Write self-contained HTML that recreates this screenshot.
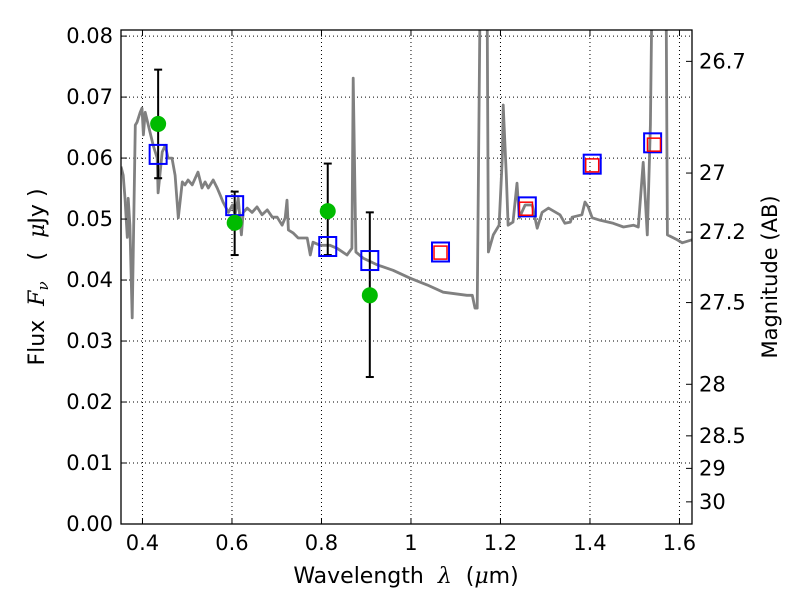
<!DOCTYPE html>
<html><head><meta charset="utf-8"><style>
html,body{margin:0;padding:0;background:#fff;}
svg{display:block;font-family:"DejaVu Sans","Liberation Sans",sans-serif;}
</style></head><body>
<svg id="chart" width="800" height="600" xmlns="http://www.w3.org/2000/svg">
<defs><clipPath id="clip"><rect x="121" y="30" width="571" height="494"/></clipPath></defs>
<rect width="800" height="600" fill="#fff"/>
<g id="grid"></g>
<g id="spec" clip-path="url(#clip)"></g>
<g id="marks"></g>
<g id="axes"></g>
<text x="406" y="583" font-size="22" text-anchor="middle" xml:space="preserve">Wavelength  <tspan font-style="italic" font-family="DejaVu Serif, serif">λ</tspan>  (<tspan font-style="italic" font-family="DejaVu Serif, serif">μ</tspan>m)</text>
<text transform="translate(44,277) rotate(-90)" font-size="22" text-anchor="middle" xml:space="preserve">Flux  <tspan font-style="italic" font-family="DejaVu Serif, serif">F</tspan><tspan font-style="italic" font-size="15" dy="4" font-family="DejaVu Serif, serif">ν</tspan><tspan dy="-4">   (  </tspan><tspan font-style="italic" font-family="DejaVu Serif, serif">μ</tspan>Jy )</text>
<text transform="translate(777,277) rotate(-90)" font-size="21" text-anchor="middle">Magnitude (AB)</text>
</svg>
<script>
const xTicks=[0.4,0.6,0.8,1.0,1.2,1.4,1.6];
const xTickLabels=["0.4","0.6","0.8","1","1.2","1.4","1.6"];
const yTicks=[0,0.01,0.02,0.03,0.04,0.05,0.06,0.07,0.08];
const yTickLabels=["0.00","0.01","0.02","0.03","0.04","0.05","0.06","0.07","0.08"];
const magTicks=[26.7,27,27.2,27.5,28,28.5,29,30];
const magTickLabels=["26.7","27","27.2","27.5","28","28.5","29","30"];
const specWave=[0.352,0.357,0.361,0.366,0.368,0.372,0.377,0.384,0.388,0.395,0.399,0.402,0.406,0.413,0.424,0.433,0.435,0.444,0.451,0.457,0.466,0.473,0.480,0.489,0.495,0.502,0.511,0.524,0.533,0.540,0.547,0.558,0.567,0.574,0.580,0.592,0.601,0.607,0.614,0.621,0.625,0.634,0.645,0.656,0.667,0.679,0.690,0.701,0.712,0.719,0.723,0.726,0.737,0.748,0.768,0.775,0.781,0.797,0.819,0.835,0.857,0.868,0.871,0.877,0.893,0.924,0.960,0.998,1.036,1.072,1.125,1.137,1.143,1.148,1.155,1.170,1.173,1.184,1.197,1.204,1.206,1.213,1.217,1.228,1.237,1.242,1.255,1.271,1.282,1.293,1.307,1.333,1.344,1.356,1.360,1.382,1.389,1.396,1.405,1.423,1.452,1.475,1.497,1.508,1.519,1.528,1.535,1.539,1.570,1.573,1.595,1.606,1.628];
const specFlux=[0.0586,0.0572,0.0534,0.0470,0.0534,0.0490,0.0338,0.0654,0.0659,0.0675,0.0682,0.0638,0.0675,0.0654,0.0621,0.0600,0.0543,0.0610,0.0621,0.0600,0.0600,0.0572,0.0502,0.0561,0.0556,0.0564,0.0556,0.0577,0.0551,0.0561,0.0551,0.0564,0.0551,0.0539,0.0528,0.0511,0.0523,0.0507,0.0534,0.0474,0.0511,0.0518,0.0511,0.0520,0.0507,0.0515,0.0503,0.0503,0.0490,0.0502,0.0531,0.0482,0.0477,0.0469,0.0469,0.0441,0.0462,0.0457,0.0457,0.0452,0.0441,0.0452,0.0731,0.0446,0.0436,0.0425,0.0416,0.0403,0.0392,0.0380,0.0375,0.0375,0.0354,0.0354,0.0900,0.0900,0.0446,0.0474,0.0490,0.0600,0.0687,0.0572,0.0490,0.0495,0.0559,0.0502,0.0523,0.0523,0.0485,0.0511,0.0518,0.0507,0.0493,0.0495,0.0503,0.0507,0.0528,0.0520,0.0502,0.0498,0.0493,0.0487,0.0490,0.0487,0.0593,0.0474,0.0654,0.0900,0.0900,0.0474,0.0466,0.0461,0.0466];
const obsWave=[0.435,0.606,0.814,0.908];
const obsFlux=[0.0656,0.0494,0.0513,0.0375];
const obsLo=[0.0567,0.0441,0.0441,0.0241];
const obsHi=[0.0745,0.0545,0.0591,0.0511];
const modelWave=[0.435,0.606,0.814,0.908,1.066,1.26,1.405,1.54];
const modelFlux=[0.0606,0.0522,0.0455,0.0432,0.0446,0.0520,0.0590,0.0625];
const nirWave=[1.066,1.257,1.405,1.543];
const nirFlux=[0.0445,0.0517,0.0588,0.0622];

const X0=121,X1=692,Y0=524,Y1=30,xmin=0.352,xmax=1.628,ymin=0,ymax=0.081;
const sx=v=>X0+(v-xmin)/(xmax-xmin)*(X1-X0);
const sy=v=>Y0-(v-ymin)/(ymax-ymin)*(Y0-Y1);
const magToFlux=m=>Math.pow(10,(23.9-m)/2.5);
const NS="http://www.w3.org/2000/svg";
function mk(tag,attrs,parent){const e=document.createElementNS(NS,tag);for(const k in attrs)e.setAttribute(k,attrs[k]);parent.appendChild(e);return e;}
const grid=document.getElementById('grid'),axes=document.getElementById('axes'),spec=document.getElementById('spec'),marks=document.getElementById('marks');

xTicks.forEach((t,i)=>{
  const x=sx(t);
  const g=mk('line',{x1:x,x2:x,y1:Y1,y2:Y0,stroke:'#000','stroke-width':1,'stroke-dasharray':'1,3'},grid);
  
  
  mk('line',{x1:x,x2:x,y1:Y0,y2:Y0-6,stroke:'#000'},axes);
  mk('line',{x1:x,x2:x,y1:Y1,y2:Y1+6,stroke:'#000'},axes);
  const tx=mk('text',{x:x,y:Y0+26,'font-size':21,'text-anchor':'middle'},axes);
  tx.textContent=xTickLabels[i];
  
  
});
yTicks.forEach((t,i)=>{
  const y=sy(t);
  const g=mk('line',{x1:X0,x2:X1,y1:y,y2:y,stroke:'#000','stroke-width':1,'stroke-dasharray':'1,3'},grid);
  
  
  mk('line',{x1:X0,x2:X0+6,y1:y,y2:y,stroke:'#000'},axes);
  const tx=mk('text',{x:X0-8,y:y+7,'font-size':21,'text-anchor':'end'},axes);
  tx.textContent=yTickLabels[i];
  
  
});
magTicks.forEach((m,i)=>{
  const y=sy(magToFlux(m));
  mk('line',{x1:X1,x2:X1-6,y1:y,y2:y,stroke:'#000'},axes);
  const tx=mk('text',{x:X1+7,y:y+7,'font-size':21},axes);
  tx.textContent=magTickLabels[i];
  
  
});
const frame=mk('rect',{x:X0,y:Y1,width:X1-X0,height:Y0-Y1,fill:'none',stroke:'#000','stroke-width':1.3},axes);



const pts=specWave.map((w,i)=>sx(w).toFixed(1)+','+sy(specFlux[i]).toFixed(1)).join(' ');
const pl=mk('polyline',{points:pts,fill:'none',stroke:'#808080','stroke-width':2.8,'stroke-linejoin':'round'},spec);



obsWave.forEach((w,i)=>{
  const x=sx(w);
  const eb=mk('g',{},marks);
  
  
  mk('line',{x1:x,x2:x,y1:sy(obsLo[i]),y2:sy(obsHi[i]),stroke:'#000','stroke-width':2},eb);
  mk('line',{x1:x-4,x2:x+4,y1:sy(obsLo[i]),y2:sy(obsLo[i]),stroke:'#000','stroke-width':2},eb);
  mk('line',{x1:x-4,x2:x+4,y1:sy(obsHi[i]),y2:sy(obsHi[i]),stroke:'#000','stroke-width':2},eb);
});
modelWave.forEach((w,i)=>{
  const r=mk('rect',{x:sx(w)-8.5,y:sy(modelFlux[i])-9.5,width:17,height:19,fill:'none',stroke:'#0000ff','stroke-width':2},marks);
  
  
});
nirWave.forEach((w,i)=>{
  const r=mk('rect',{x:sx(w)-6.5,y:sy(nirFlux[i])-6.5,width:13,height:13,fill:'none',stroke:'#ff0000','stroke-width':1.5},marks);
  
  
});
obsWave.forEach((w,i)=>{
  const c=mk('circle',{cx:sx(w),cy:sy(obsFlux[i]),r:8,fill:'#00bb00'},marks);
  
  
});
</script>
</body></html>
